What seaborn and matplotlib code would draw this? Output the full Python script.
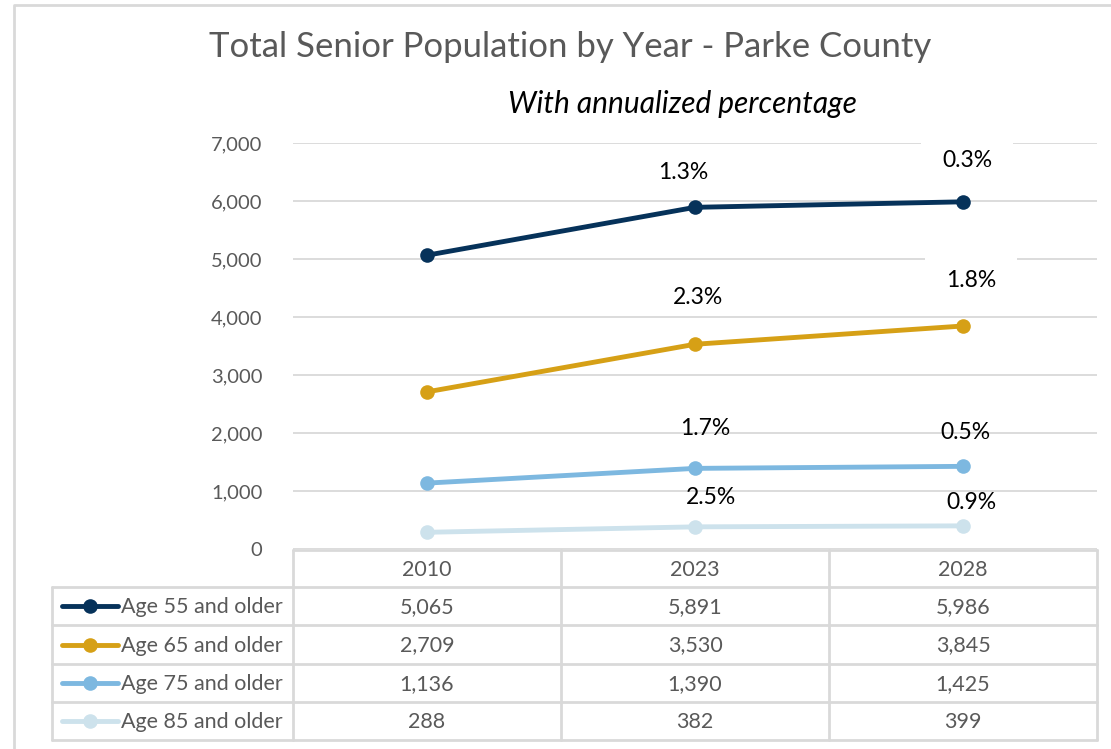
import numpy as np
import pandas as pd
import matplotlib
matplotlib.use("Agg")
import matplotlib.pyplot as plt
import seaborn as sns

# ---- data ----
years = ["2010", "2023", "2028"]
groups = ["Age 55 and older", "Age 65 and older", "Age 75 and older", "Age 85 and older"]
age55 = [5065, 5891, 5986]
age65 = [2709, 3530, 3845]
age75 = [1136, 1390, 1425]
age85 = [288, 382, 399]
pct55 = ["", "1.3%", "0.3%"]
pct65 = ["", "2.3%", "1.8%"]
pct75 = ["", "1.7%", "0.5%"]
pct85 = ["", "2.5%", "0.9%"]
colors = ["#06325a", "#d6a016", "#7db8e0", "#cde2ec"]

series = [age55, age65, age75, age85]
pcts = [pct55, pct65, pct75, pct85]

rows = []
for g, vals in zip(groups, series):
    for i, v in enumerate(vals):
        rows.append({"pos": i, "year": years[i], "value": v, "group": g})
df = pd.DataFrame(rows)

sns.set_style("white")
plt.rcParams["font.family"] = ["Lato", "DejaVu Sans"]

W, H = 1111, 749
fig = plt.figure(figsize=(W / 100, H / 100), dpi=100)

# background axes in pixel coords for border + data table
bg = fig.add_axes([0, 0, 1, 1], zorder=0)
bg.set_xlim(0, W)
bg.set_ylim(H, 0)
bg.axis("off")
grey = "#d9d9d9"
txt = "#595959"
bg.plot([14, 14, W + 5], [H + 5, 5, 5], color=grey, lw=2)

# plot axes
x0, x1 = 293, 1097
y0, y1 = 549, 143
ax = fig.add_axes([x0 / W, (H - y0) / H, (x1 - x0) / W, (y0 - y1) / H], zorder=2)
ax.patch.set_alpha(0)

sns.lineplot(data=df, x="pos", y="value", hue="group", hue_order=groups,
             palette=colors, marker="o", markersize=10.5, mew=0,
             linewidth=3.5, legend=False, ax=ax, zorder=3)

ax.set_xlim(-0.5, 2.5)
ax.set_ylim(0, 7000)
ax.set_yticks(np.arange(0, 7001, 1000))
ax.set_yticklabels([f"{int(t):,}" for t in np.arange(0, 7001, 1000)],
                   color=txt, fontsize=14.5)
ax.tick_params(axis="y", length=0, pad=22)
ax.set_xticks([])
ax.set_xlabel("")
ax.set_ylabel("")
for s in ax.spines.values():
    s.set_visible(False)
ax.grid(axis="y", color=grey, lw=1.3, zorder=0)
ax.set_axisbelow(True)

# annualized percentage labels
offsets = [[None, (-12, 35), (4, 41)],
           [None, (3, 47), (8, 45)],
           [None, (10, 40), (2, 34)],
           [None, (16, 29), (8, 23)]]
for si, (vals, pl) in enumerate(zip(series, pcts)):
    for i, (v, lab) in enumerate(zip(vals, pl)):
        if not lab:
            continue
        box = None
        if si < 2 and i == 2:
            box = dict(boxstyle="square,pad=0.9", fc="white", ec="none")
        ax.annotate(lab, (i, v), xytext=offsets[si][i], textcoords="offset pixels",
                    ha="center", va="center", fontsize=16.5, color="black",
                    bbox=box, zorder=4)

# titles
fig.text(570 / W, 1 - 47 / H, "Total Senior Population by Year - Parke County",
         ha="center", va="center", fontsize=25, color=txt)
fig.text(682 / W, 1 - 104 / H, "With annualized percentage",
         ha="center", va="center", fontsize=21.5, color="black", style="italic")

# data table
col_edges = [293, 561, 829, 1097]
row_edges = [550, 587, 625, 664, 702, 740]
lw_t = 2
bg.plot([x0, x1], [row_edges[0], row_edges[0]], color=grey, lw=lw_t)
for ry in row_edges[1:]:
    bg.plot([52, x1], [ry, ry], color=grey, lw=lw_t)
bg.plot([52, 52], [row_edges[1], row_edges[-1]], color=grey, lw=lw_t)
for cx in col_edges:
    bg.plot([cx, cx], [row_edges[0], row_edges[-1]], color=grey, lw=lw_t)

fs_t = 15.5
for j, yr in enumerate(years):
    cx = (col_edges[j] + col_edges[j + 1]) / 2
    bg.text(cx, (row_edges[0] + row_edges[1]) / 2 + 1, yr, ha="center", va="center",
            fontsize=fs_t, color=txt)
for r, (g, vals, c) in enumerate(zip(groups, series, colors)):
    cy = (row_edges[r + 1] + row_edges[r + 2]) / 2
    bg.plot([62, 118], [cy, cy], color=c, lw=3.5, solid_capstyle="round")
    bg.plot([90], [cy], marker="o", color=c, markersize=10.5, mew=0)
    bg.text(121, cy + 1, g, ha="left", va="center", fontsize=fs_t, color=txt)
    for j, v in enumerate(vals):
        cx = (col_edges[j] + col_edges[j + 1]) / 2
        bg.text(cx, cy + 1, f"{v:,}", ha="center", va="center", fontsize=fs_t, color=txt)

fig.savefig("out.png", dpi=100, facecolor="white")
